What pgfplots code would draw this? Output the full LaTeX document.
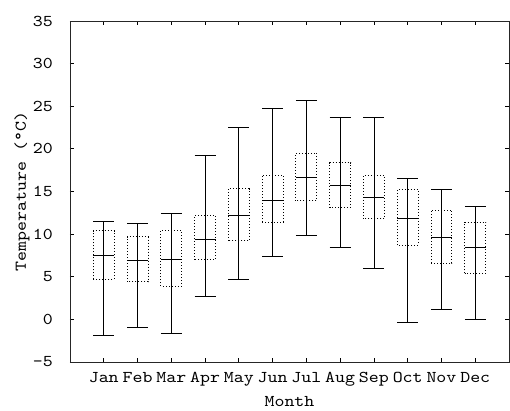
\documentclass[border=0pt]{standalone}
\usepackage{pgfplots}
\pgfplotsset{compat=1.18}
\usepgfplotslibrary{statistics}
\usepackage{fontspec}
\newfontfamily\cour{lmmono10-regular.otf}[FakeStretch=1.15]
\begin{document}
\begin{tikzpicture}
\begin{axis}[
  scale only axis,
  width=439pt, height=341pt,
  xmin=0, xmax=13, ymin=-5, ymax=35,
  xtick={1,...,12},
  xticklabels={Jan,Feb,Mar,Apr,May,Jun,Jul,Aug,Sep,Oct,Nov,Dec},
  ytick={-5,0,...,35},
  tick align=inside,
  tick pos=both,
  major tick length=4pt,
  font=\fontsize{16.5}{19}\cour,
  /pgf/number format/assume math mode=true,
  axis line style={black!85, line width=0.8pt},
  every tick/.style={black, line width=0.8pt},
  xlabel={Month},
  ylabel={Temperature (°C)},
  xlabel style={at={(rel axis cs:0.5,0)}, anchor=base, yshift=-44.7pt},
  ylabel style={at={(rel axis cs:0,0.5)}, anchor=center, rotate=0, yshift=48pt},
  xticklabel style={anchor=base, yshift=-20.7pt, inner sep=0pt},
  yticklabel style={anchor=east, inner sep=0pt, xshift=-17pt},
  boxplot/draw direction=y,
  boxplot/box extend=0.62,
  boxplot/whisker extend=0.62,
  boxplot/every box/.style={black, line width=0.9pt, dash pattern=on 1pt off 2pt},
  boxplot/every whisker/.style={black, solid, line width=0.8pt},
  boxplot/every median/.style={black, solid, line width=0.8pt},
  boxplot/draw/lower whisker/.code={%
    \draw[/pgfplots/boxplot/every whisker/.try]
      (boxplot cs:\pgfplotsboxplotvalue{lower whisker})
      -- (boxplot cs:\pgfplotsboxplotvalue{upper whisker});
    \draw[/pgfplots/boxplot/every whisker/.try]
      (boxplot whisker cs:\pgfplotsboxplotvalue{lower whisker},0)
      -- (boxplot whisker cs:\pgfplotsboxplotvalue{lower whisker},1);
  },
  boxplot/draw/upper whisker/.code={%
    \draw[/pgfplots/boxplot/every whisker/.try]
      (boxplot whisker cs:\pgfplotsboxplotvalue{upper whisker},0)
      -- (boxplot whisker cs:\pgfplotsboxplotvalue{upper whisker},1);
  },
]
% lower whisker, lower quartile, median, upper quartile, upper whisker
\addplot[black, boxplot prepared={draw position=1, lower whisker=-1.9, lower quartile=4.7, median=7.5, upper quartile=10.4, upper whisker=11.5}] coordinates {};
\addplot[black, boxplot prepared={draw position=2, lower whisker=-0.9, lower quartile=4.4, median=6.9, upper quartile=9.7, upper whisker=11.2}] coordinates {};
\addplot[black, boxplot prepared={draw position=3, lower whisker=-1.7, lower quartile=3.9, median=7.0, upper quartile=10.4, upper whisker=12.4}] coordinates {};
\addplot[black, boxplot prepared={draw position=4, lower whisker=2.7, lower quartile=7.0, median=9.4, upper quartile=12.2, upper whisker=19.2}] coordinates {};
\addplot[black, boxplot prepared={draw position=5, lower whisker=4.7, lower quartile=9.2, median=12.2, upper quartile=15.3, upper whisker=22.5}] coordinates {};
\addplot[black, boxplot prepared={draw position=6, lower whisker=7.4, lower quartile=11.4, median=14.0, upper quartile=16.9, upper whisker=24.8}] coordinates {};
\addplot[black, boxplot prepared={draw position=7, lower whisker=9.8, lower quartile=13.9, median=16.7, upper quartile=19.5, upper whisker=25.7}] coordinates {};
\addplot[black, boxplot prepared={draw position=8, lower whisker=8.4, lower quartile=13.1, median=15.7, upper quartile=18.4, upper whisker=23.7}] coordinates {};
\addplot[black, boxplot prepared={draw position=9, lower whisker=6.0, lower quartile=11.8, median=14.3, upper quartile=16.9, upper whisker=23.7}] coordinates {};
\addplot[black, boxplot prepared={draw position=10, lower whisker=-0.4, lower quartile=8.7, median=11.8, upper quartile=15.2, upper whisker=16.5}] coordinates {};
\addplot[black, boxplot prepared={draw position=11, lower whisker=1.2, lower quartile=6.6, median=9.6, upper quartile=12.8, upper whisker=15.3}] coordinates {};
\addplot[black, boxplot prepared={draw position=12, lower whisker=0.0, lower quartile=5.4, median=8.4, upper quartile=11.4, upper whisker=13.3}] coordinates {};
\end{axis}
\pgfresetboundingbox
\path ([xshift=-70pt,yshift=-48pt]current axis.south west) rectangle ([xshift=1pt,yshift=21pt]current axis.north east);
\end{tikzpicture}
\end{document}
